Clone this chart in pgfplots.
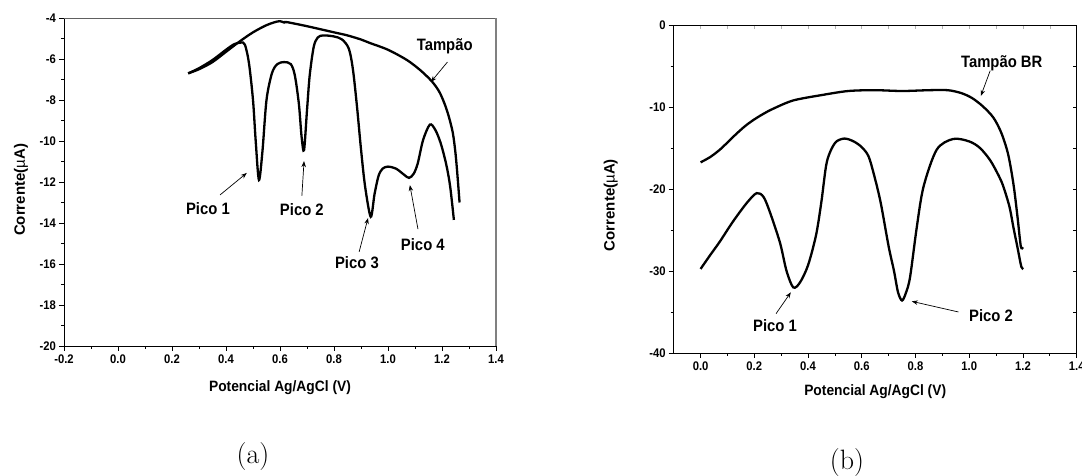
\documentclass[border=0pt]{standalone}
\usepackage{fontspec}
\usepackage{pgfplots}
\pgfplotsset{compat=1.18}
\usetikzlibrary{arrows.meta}
\newfontfamily\arialfont{Liberation Sans}

% voltammogram data, current in microampere
\pgfplotstableread{
x y
0.260 -6.70
0.300 -6.50
0.350 -6.15
0.400 -5.65
0.450 -5.15
0.500 -4.70
0.550 -4.35
0.590 -4.17
0.605 -4.17
0.615 -4.22
0.625 -4.20
0.700 -4.40
0.800 -4.70
0.850 -4.85
0.900 -5.05
0.933 -5.22
1.000 -5.55
1.070 -6.05
1.120 -6.55
1.163 -7.10
1.190 -7.60
1.210 -8.20
1.225 -8.80
1.240 -9.60
1.250 -10.60
1.258 -11.80
1.265 -13.00
}\tampaoA
\pgfplotstableread{
x y
0.260 -6.70
0.300 -6.45
0.350 -6.05
0.400 -5.55
0.430 -5.28
0.455 -5.20
0.470 -5.30
0.485 -6.20
0.500 -8.00
0.510 -10.00
0.522 -11.90
0.535 -10.50
0.550 -8.00
0.570 -6.70
0.590 -6.25
0.615 -6.15
0.640 -6.25
0.655 -6.80
0.670 -8.20
0.680 -9.80
0.689 -10.45
0.700 -8.50
0.710 -6.80
0.725 -5.40
0.740 -4.95
0.760 -4.85
0.800 -4.90
0.830 -5.05
0.855 -5.50
0.870 -6.50
0.885 -8.30
0.900 -10.40
0.915 -12.20
0.936 -13.70
0.950 -12.60
0.965 -11.70
0.980 -11.35
1.000 -11.25
1.030 -11.35
1.060 -11.65
1.078 -11.80
1.095 -11.60
1.110 -11.10
1.130 -9.95
1.155 -9.20
1.175 -9.45
1.195 -10.10
1.215 -11.10
1.230 -12.20
1.244 -13.85
}\amostraA
\pgfplotstableread{
x y
0.000 -16.75
0.036 -16.10
0.072 -15.20
0.104 -14.20
0.134 -13.25
0.165 -12.35
0.196 -11.60
0.233 -10.85
0.271 -10.20
0.345 -9.20
0.450 -8.55
0.550 -8.05
0.650 -7.95
0.750 -8.05
0.850 -7.95
0.920 -7.95
0.970 -8.30
1.010 -8.90
1.050 -9.90
1.090 -11.30
1.120 -13.20
1.145 -15.80
1.165 -19.50
1.180 -23.50
1.192 -27.00
1.200 -27.10
}\tampaoB
\pgfplotstableread{
x y
0.000 -29.75
0.036 -28.05
0.072 -26.40
0.120 -24.00
0.172 -21.70
0.209 -20.50
0.235 -21.00
0.260 -23.00
0.296 -26.60
0.320 -30.00
0.345 -32.00
0.370 -31.40
0.400 -29.30
0.430 -25.60
0.450 -21.50
0.470 -16.70
0.500 -14.40
0.535 -13.85
0.570 -14.20
0.600 -14.90
0.625 -16.00
0.645 -18.20
0.670 -21.60
0.700 -27.00
0.720 -30.00
0.735 -32.60
0.750 -33.60
0.765 -32.60
0.780 -30.70
0.805 -24.60
0.830 -19.70
0.879 -15.20
0.940 -13.90
1.000 -14.20
1.040 -15.00
1.078 -16.50
1.110 -18.40
1.127 -19.70
1.150 -22.20
1.164 -24.60
1.180 -27.20
1.194 -29.50
1.200 -29.60
}\amostraB

\tikzset{
  curve/.style={black, line width=2.3pt, smooth, tension=0.5},
  note/.style={font=\arialfont\bfseries\fontsize{16.5}{18}\selectfont, xscale=0.9},
  pointer/.style={line width=0.7pt, -{Stealth[length=6pt,width=4.5pt]}},
}
\pgfplotsset{
  origin/.style={
    scale only axis, anchor=south west, clip=false,
    axis line style={line width=0.9pt},
    tick style={black, line width=0.8pt},
    major tick length=5pt, minor tick length=3pt,
    tick align=outside,
    /pgf/number format/assume math mode=true,
    ticklabel style={font=\arialfont\bfseries\fontsize{12.5}{14}\selectfont, xscale=0.9},
    label style={font=\arialfont\bfseries\fontsize{15}{17}\selectfont},
    xlabel style={xscale=0.92},
    xticklabel style={/pgf/number format/.cd, fixed, fixed zerofill, precision=1},
  },
}

\begin{document}
\begin{tikzpicture}
\useasboundingbox (0pt,0pt) rectangle (1082pt,476pt);

% (a) voltammogram with four peaks
\begin{axis}[origin, at={(64pt,130pt)}, width=432pt, height=328pt,
  xmin=-0.2, xmax=1.4, ymin=-20, ymax=-4,
  xtick={-0.2,0.0,0.2,0.4,0.6,0.8,1.0,1.2,1.4}, minor x tick num=1,
  ytick={-20,-18,-16,-14,-12,-10,-8,-6,-4}, minor y tick num=1,
  xtick pos=left, ytick pos=left,
  xlabel={Potencial Ag/AgCl (V)},
  ylabel={Corrente({\mdseries µ}A)},
  xlabel style={at={(axis description cs:0.5,-0.128)}, anchor=center},
  ylabel style={at={(axis description cs:-0.0995,0.476)}, anchor=center},
]
\addplot[curve, no markers] table {\tampaoA};
\addplot[curve, no markers] table {\amostraA};
\draw[gray!75!black, line width=0.9pt] (rel axis cs:0,1) -- (rel axis cs:1,1);
\draw[gray, line width=1.2pt] (rel axis cs:1,0) -- (rel axis cs:1,1);
\node[note] at (axis cs:1.21,-5.4) {Tampão};
\draw[pointer] (axis cs:1.22,-6.15) -- (axis cs:1.159,-7.12);
\node[note] at (axis cs:0.333,-13.3) {Pico 1};
\draw[pointer] (axis cs:0.378,-12.63) -- (axis cs:0.477,-11.56);
\node[note] at (axis cs:0.681,-13.37) {Pico 2};
\draw[pointer] (axis cs:0.681,-12.68) -- (axis cs:0.689,-10.98);
\node[note] at (axis cs:0.885,-15.95) {Pico 3};
\draw[pointer] (axis cs:0.893,-15.41) -- (axis cs:0.926,-13.76);
\node[note] at (axis cs:1.129,-15.07) {Pico 4};
\draw[pointer] (axis cs:1.111,-14.3) -- (axis cs:1.081,-12.15);
\end{axis}

% (b) voltammogram with two peaks
\begin{axis}[origin, at={(673.7pt,123pt)}, width=403pt, height=328pt,
  xmin=-0.1, xmax=1.4, ymin=-40, ymax=0,
  xtick={0.0,0.2,0.4,0.6,0.8,1.0,1.2,1.4}, minor x tick num=1,
  ytick={-40,-30,-20,-10,0}, minor y tick num=1,
  xtick pos=left, ytick pos=left,
  xlabel={Potencial Ag/AgCl (V)},
  ylabel={Corrente({\mdseries µ}A)},
  xlabel style={at={(axis description cs:0.5,-0.119)}, anchor=center},
  ylabel style={at={(axis description cs:-0.156,0.451)}, anchor=center},
]
\addplot[curve, no markers] table {\tampaoB};
\addplot[curve, no markers] table {\amostraB};
\node[note] at (axis cs:1.121,-4.67) {Tampão BR};
\draw[pointer] (axis cs:1.078,-5.57) -- (axis cs:1.043,-8.66);
\node[note] at (axis cs:0.277,-36.7) {Pico 1};
\draw[pointer] (axis cs:0.281,-35.2) -- (axis cs:0.336,-32.6);
\node[note] at (axis cs:1.081,-35.4) {Pico 2};
\draw[pointer] (axis cs:0.96,-35.0) -- (axis cs:0.786,-33.7);
\end{axis}

% inner ticks on the top and right sides of (b)
\begin{axis}[scale only axis, anchor=south west, at={(673.7pt,123pt)},
  width=403pt, height=328pt,
  xmin=-0.1, xmax=1.4, ymin=-40, ymax=0,
  axis line style={line width=0.9pt},
  tick align=inside, major tick length=4pt,
  xtick={-0.1,0.0,...,1.4}, ytick={-40,-35,...,0},
  xtick pos=right, ytick pos=right,
  xticklabels={}, yticklabels={},
  xtick style={gray!60, line width=0.6pt},
  ytick style={black, line width=0.8pt},
]
\end{axis}

\node[font=\fontsize{28}{30}\selectfont] at (253pt,19pt) {(a)};
\node[font=\fontsize{28}{30}\selectfont] at (847pt,13pt) {(b)};
\end{tikzpicture}
\end{document}
